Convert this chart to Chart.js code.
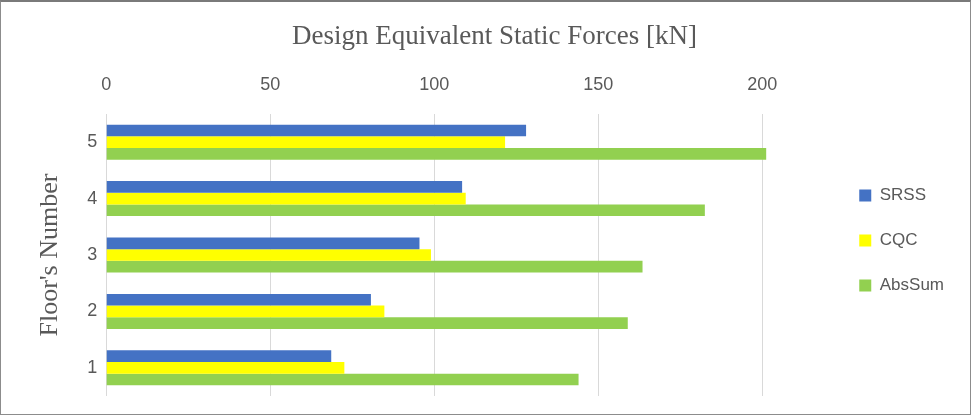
<!DOCTYPE html>
<html lang="en">
<head>
    <meta charset="UTF-8">
    <title>Design Equivalent Static Forces</title>
    <style>
        html, body {
            margin: 0;
            padding: 0;
            background: #ffffff;
        }
        /* outer frame like the exported chart */
        #wrap {
            width: 971px;
            height: 415px;
            box-sizing: border-box;
            border: 1px solid #8c8c8c;
            border-top: 2px solid #7a7a7a;
        }
        canvas {
            display: block;
        }
    </style>
</head>
<body>
    <div id="wrap">
        <canvas id="forcesChart" width="969" height="412"></canvas>
    </div>

    <script src="https://cdn.jsdelivr.net/npm/chart.js"></script>
    <script>
        // floors, top to bottom as in the picture
        const floors = ['5', '4', '3', '2', '1'];
        const srss = [128, 108.5, 95.5, 80.7, 68.6];
        const cqc = [121.6, 109.6, 99, 84.8, 72.6];
        const absSum = [201.2, 182.5, 163.5, 159, 144];
        const forceTicks = [0, 50, 100, 150, 200];

        const greyText = '#595959';

        // moves the legend column down next to the middle bars
        const legendShift = {
            id: 'legendShift',
            afterLayout(chart) {
                if (chart.legend) chart.legend.top += 83;
            }
        };

        const ctx = document.getElementById('forcesChart').getContext('2d');
        new Chart(ctx, {
            type: 'bar',
            data: {
                labels: floors,
                datasets: [
                    { label: 'SRSS', data: srss, backgroundColor: '#4472C4' },
                    { label: 'CQC', data: cqc, backgroundColor: '#FFFF00' },
                    { label: 'AbsSum', data: absSum, backgroundColor: '#92D050', clip: false }
                ]
            },
            options: {
                indexAxis: 'y',
                responsive: false,
                animation: false,
                devicePixelRatio: 1,
                layout: {
                    padding: { left: 34, right: 16, top: 0, bottom: 18 }
                },
                datasets: {
                    bar: {
                        categoryPercentage: 0.62,
                        barPercentage: 1,
                        borderWidth: 0
                    }
                },
                plugins: {
                    title: {
                        display: true,
                        text: 'Design Equivalent Static Forces [kN]',
                        color: greyText,
                        font: { family: '"Liberation Serif", serif', size: 27, weight: 'normal' },
                        padding: { top: 19, bottom: 3 }
                    },
                    legend: {
                        position: 'right',
                        labels: {
                            boxWidth: 12,
                            boxHeight: 12,
                            padding: 28,
                            color: greyText,
                            font: { family: '"Liberation Sans", sans-serif', size: 17 }
                        }
                    },
                    tooltip: { enabled: false }
                },
                scales: {
                    x: {
                        position: 'top',
                        min: 0,
                        max: 200,
                        afterBuildTicks(scale) {
                            scale.ticks = forceTicks.map(v => ({ value: v }));
                        },
                        grid: { color: '#d9d9d9', drawTicks: false },
                        border: { display: false },
                        ticks: {
                            color: greyText,
                            padding: 18,
                            font: { family: '"Liberation Sans", sans-serif', size: 18 }
                        }
                    },
                    y: {
                        grid: { display: false, drawTicks: false },
                        border: { display: false },
                        ticks: {
                            color: greyText,
                            padding: 9,
                            font: { family: '"Liberation Sans", sans-serif', size: 18 }
                        },
                        title: {
                            display: true,
                            text: "Floor's Number",
                            color: greyText,
                            font: { family: '"Liberation Serif", serif', size: 26, weight: 'normal' },
                            padding: { top: 0, bottom: 12 }
                        },
                        // let the layout padding decide the bottom edge
                        afterFit(scale) {
                            scale.paddingBottom = 0;
                        }
                    },
                    // empty right-hand axis that only keeps a gap before the legend
                    gap: {
                        type: 'category',
                        position: 'right',
                        display: true,
                        labels: floors,
                        grid: { display: false, drawTicks: false },
                        border: { display: false },
                        ticks: { display: false },
                        afterFit(scale) {
                            scale.width = 69;
                        }
                    }
                }
            },
            plugins: [legendShift]
        });
    </script>
</body>
</html>
